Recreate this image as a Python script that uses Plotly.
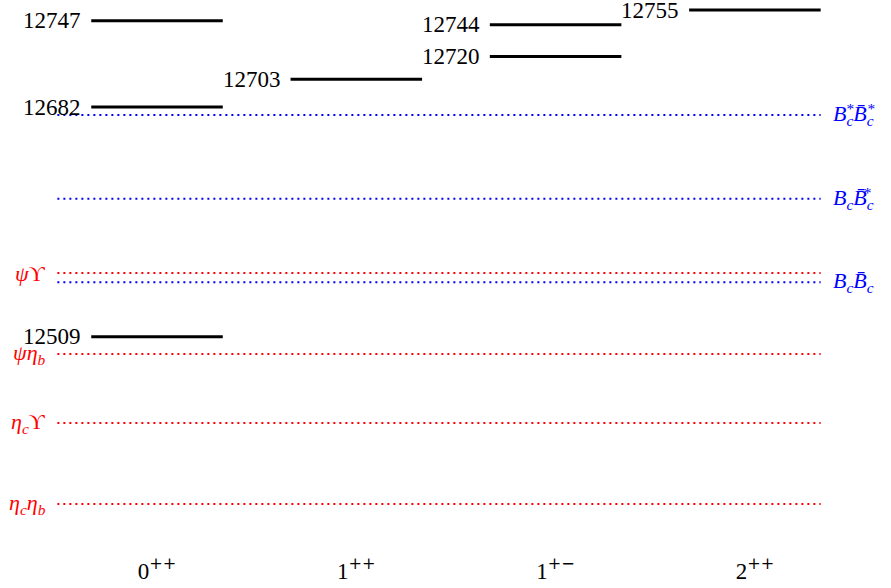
import plotly.graph_objects as go

categories = ["0", "1", "1", "2"]
category_sup = ["++", "++", "+−", "++"]
level_category = [0, 0, 0, 1, 2, 2, 3]
level_mass = [12509, 12682, 12747, 12703, 12720, 12744, 12755]

thr_names = ["<i>η</i><sub><i>c</i></sub><i>η</i><sub><i>b</i></sub>",
             "<i>η</i><sub><i>c</i></sub>ϒ",
             "<i>ψη</i><sub><i>b</i></sub>",
             "<i>ψ</i>ϒ",
             "<i>B</i><sub><i>c</i></sub><i>B̄</i><sub><i>c</i></sub>",
             "<i>B</i><sub><i>c</i></sub><i>B̄</i><sub><i>c</i></sub>",
             "<i>B</i><sub><i>c</i></sub><i>B̄</i><sub><i>c</i></sub>"]
# superscript stars stacked over the subscripts (TeX-like); "" = none
HID = "<span style='color:rgba(0,0,0,0)'>{}</span>"
thr_stars = ["", "", "", "", "",
             HID.format("<i>B</i>") + "<sup> </sup>" + HID.format("<i>B̄</i>") + "<sup>*</sup>",
             HID.format("<i>B</i>") + "<sup>*</sup>" + HID.format("<i>B̄</i>") + "<sup>*</sup>"]
thr_mass = [12383, 12444, 12496, 12557, 12550, 12613, 12676]
thr_side = ["left", "left", "left", "left", "right", "right", "right"]
thr_color = ["red", "red", "red", "red", "blue", "blue", "blue"]

HALF = 0.33
X_LEFT, X_RIGHT = -0.5, 3.33
FONT = "Liberation Serif, DejaVu Serif, serif"

fig = go.Figure()
annotations = []

for name, stars, m, side, col in zip(thr_names, thr_stars, thr_mass, thr_side, thr_color):
    fig.add_trace(go.Scatter(x=[X_LEFT, X_RIGHT], y=[m, m], mode="lines",
                             line=dict(color=col, width=2, dash="2px,4px"),
                             hoverinfo="skip", showlegend=False))
    if side == "left":
        annotations.append(dict(x=X_LEFT, y=m, text=name, xanchor="right", yanchor="middle",
                                xshift=-9, showarrow=False,
                                font=dict(family=FONT, size=22, color=col)))
    else:
        annotations.append(dict(x=X_RIGHT, y=m, text=name, xanchor="left", yanchor="middle",
                                xshift=10, showarrow=False,
                                font=dict(family=FONT, size=22, color=col)))
        if stars:
            annotations.append(dict(x=X_RIGHT, y=m, text=stars, xanchor="left", yanchor="middle",
                                    xshift=10, yshift=1, showarrow=False,
                                    font=dict(family=FONT, size=22, color=col)))

for c, m in zip(level_category, level_mass):
    fig.add_trace(go.Scatter(x=[c - HALF, c + HALF], y=[m, m], mode="lines",
                             line=dict(color="black", width=3),
                             hoverinfo="skip", showlegend=False))
    annotations.append(dict(x=c - HALF, y=m, text=str(m), xanchor="right", yanchor="middle",
                            xshift=-8, showarrow=False,
                            font=dict(family=FONT, size=23, color="black")))

ticktext = [f"{c}<sup><span style='font-family:DejaVu Serif'>{s}</span></sup>"
            for c, s in zip(categories, category_sup)]

fig.update_layout(
    width=891, height=588,
    margin=dict(l=0, r=0, t=0, b=33),
    plot_bgcolor="white", paper_bgcolor="white",
    annotations=annotations,
    xaxis=dict(range=[-0.7878, 3.6829], tickvals=list(range(len(categories))),
               ticktext=ticktext, showgrid=False, zeroline=False, showline=False,
               ticks="", tickfont=dict(family=FONT, size=23, color="black")),
    yaxis=dict(range=[12344.65, 12762.6], showgrid=False, zeroline=False,
               showline=False, showticklabels=False, ticks=""),
)

fig.write_html("out.html", config={"displayModeBar": False},
               post_script="document.body.style.margin='0';")
